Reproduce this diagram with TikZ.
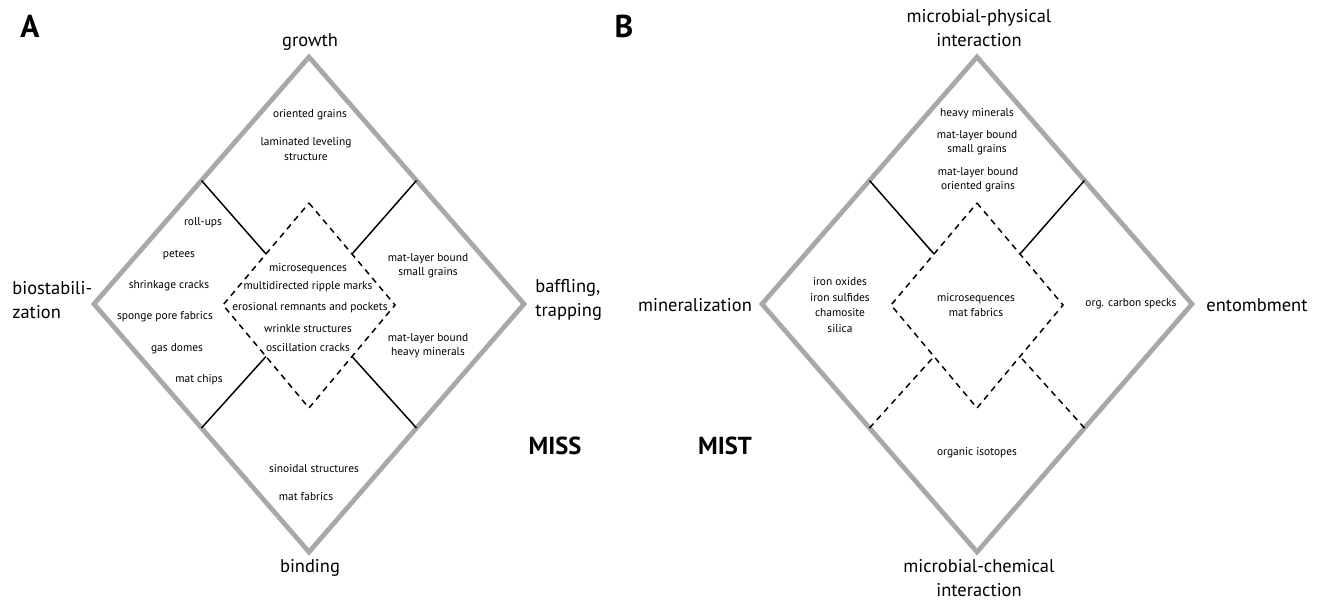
\documentclass[tikz,border=0pt]{standalone}
\usepackage{fontspec}
\setmainfont{PT Sans}
\usetikzlibrary{calc}

\definecolor{framegray}{RGB}{168,168,168}

\begin{document}
\begin{tikzpicture}[
	x = 0.02cm, y = -0.02cm,
	frame/.style = {draw=framegray, line width=2.7pt, line join=miter},
	link/.style = {draw=black, line width=0.85pt},
	inner/.style = {draw=black, line width=0.85pt, dash pattern=on 3.4pt off 2.8pt},
	pole/.style = {font=\fontsize{10.5}{13.5}\selectfont, inner sep=0pt},
	item/.style = {font=\fontsize{6.5}{8}\selectfont, align=center, inner sep=0pt},
	tag/.style = {font=\fontsize{14}{16}\selectfont\bfseries, inner sep=0pt},
	panel/.style = {font=\fontsize{18}{20}\selectfont\bfseries, inner sep=0pt}]

	\useasboundingbox (0,0) rectangle (1323,603);

	\foreach \p/\cx in {A/309, B/977} {
		\coordinate (\p t) at (\cx,57);
		\coordinate (\p l) at (\cx-215,304);
		\coordinate (\p r) at (\cx+215,304);
		\coordinate (\p b) at (\cx,552);
		\coordinate (\p it) at (\cx,203);
		\coordinate (\p il) at (\cx-86,305);
		\coordinate (\p ir) at (\cx+86,305);
		\coordinate (\p ib) at (\cx,408);
		\coordinate (\p tl) at ($(\p t)!.5!(\p l)$);
		\coordinate (\p tr) at ($(\p t)!.5!(\p r)$);
		\coordinate (\p bl) at ($(\p b)!.5!(\p l)$);
		\coordinate (\p br) at ($(\p b)!.5!(\p r)$);
		\coordinate (\p itl) at ($(\p it)!.5!(\p il)$);
		\coordinate (\p itr) at ($(\p it)!.5!(\p ir)$);
		\coordinate (\p ibl) at ($(\p ib)!.5!(\p il)$);
		\coordinate (\p ibr) at ($(\p ib)!.5!(\p ir)$);
	}

	% panel A
	\draw[frame] (At) -- (Ar) -- (Ab) -- (Al) -- cycle;
	\draw[inner] (Ait) -- (Air) -- (Aib) -- (Ail) -- cycle;
	\draw[link] (Atl) -- (Aitl);
	\draw[link] (Atr) -- (Aitr);
	\draw[link] (Abl) -- (Aibl);
	\draw[link] (Abr) -- (Aibr);

	\node[panel] (Apanel) at (30,26) {A};
	\node[pole] (growth) at (310,42) {growth};
	\node[pole, align=left, anchor=west] (biostab) at (12,300) {biostabili-\\zation};
	\node[pole, align=left, anchor=west] (baffling) at (535,300) {baffling,\\trapping};
	\node[pole] (binding) at (310,568) {binding};
	\node[tag] (miss) at (555,446) {MISS};

	\node[item] (oriented) at (310,115) {oriented grains};
	\node[item] (laminated) at (306,149) {laminated leveling\\structure};
	\node[item] (rollups) at (203,223) {roll-ups};
	\node[item] (petees) at (179,255) {petees};
	\node[item] (shrinkage) at (169,286) {shrinkage cracks};
	\node[item] (sponge) at (165,317) {sponge pore fabrics};
	\node[item] (gasdomes) at (177,349) {gas domes};
	\node[item] (matchips) at (199,380) {mat chips};
	\node[item] (Amicroseq) at (308,269) {microsequences};
	\node[item] (ripple) at (308,287) {multidirected ripple marks};
	\node[item] (erosional) at (310,308) {erosional remnants and pockets};
	\node[item] (wrinkle) at (308,329) {wrinkle structures};
	\node[item] (oscillation) at (308,348) {oscillation cracks};
	\node[item] (Asmall) at (428,266) {mat-layer bound\\small grains};
	\node[item] (Aheavy) at (428,346) {mat-layer bound\\heavy minerals};
	\node[item] (sinoidal) at (314,469) {sinoidal structures};
	\node[item] (Amatfab) at (306,497) {mat fabrics};

	% panel B
	\draw[frame] (Bt) -- (Br) -- (Bb) -- (Bl) -- cycle;
	\draw[inner] (Bit) -- (Bir) -- (Bib) -- (Bil) -- cycle;
	\draw[link] (Btl) -- (Bitl);
	\draw[link] (Btr) -- (Bitr);
	\draw[inner] (Bbl) -- (Bibl);
	\draw[inner] (Bbr) -- (Bibr);

	\node[panel] (Bpanel) at (624,26) {B};
	\node[pole, align=center] (physical) at (979,28) {microbial-physical\\interaction};
	\node[pole] (mineral) at (695,305) {mineralization};
	\node[pole] (entomb) at (1257,305) {entombment};
	\node[pole, align=center] (chemical) at (979,578) {microbial-chemical\\interaction};
	\node[tag] (mist) at (725,446) {MIST};

	\node[item] (Bheavy) at (977,114) {heavy minerals};
	\node[item] (Bsmall) at (977,143) {mat-layer bound\\small grains};
	\node[item] (Boriented) at (978,180) {mat-layer bound\\oriented grains};
	\node[item, font=\fontsize{6.5}{9}\selectfont] (iron) at (840,305) {iron oxides\\iron sulfides\\chamosite\\silica};
	\node[item] (Bmicroseq) at (976,305) {microsequences\\mat fabrics};
	\node[item] (carbon) at (1131,304) {org. carbon specks};
	\node[item] (isotopes) at (977,453) {organic isotopes};
\end{tikzpicture}
\end{document}
